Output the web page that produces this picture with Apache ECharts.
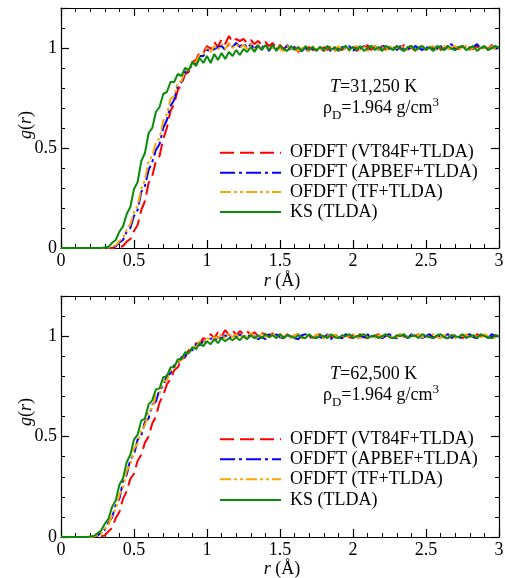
<!DOCTYPE html>
<html><head><meta charset="utf-8">
<script src="https://cdn.jsdelivr.net/npm/echarts/dist/echarts.min.js"></script>
<style>html,body{margin:0;padding:0;background:#fff}#c{width:505px;height:578px}</style>
</head><body><div id="c"></div>
<script>
// r grid (Å)
const R = [
0,0.025,0.05,0.075,0.1,0.125,0.15,0.175,0.2,0.225,
0.25,0.275,0.3,0.325,0.35,0.375,0.4,0.425,0.45,0.475,
0.5,0.525,0.55,0.575,0.6,0.625,0.65,0.675,0.7,0.725,
0.75,0.775,0.8,0.825,0.85,0.875,0.9,0.925,0.95,0.975,
1,1.025,1.05,1.075,1.1,1.125,1.15,1.175,1.2,1.225,
1.25,1.275,1.3,1.325,1.35,1.375,1.4,1.425,1.45,1.475,
1.5,1.525,1.55,1.575,1.6,1.625,1.65,1.675,1.7,1.725,
1.75,1.775,1.8,1.825,1.85,1.875,1.9,1.925,1.95,1.975,
2,2.025,2.05,2.075,2.1,2.125,2.15,2.175,2.2,2.225,
2.25,2.275,2.3,2.325,2.35,2.375,2.4,2.425,2.45,2.475,
2.5,2.525,2.55,2.575,2.6,2.625,2.65,2.675,2.7,2.725,
2.75,2.775,2.8,2.825,2.85,2.875,2.9,2.925,2.95,2.975,
3];

// Top panel: T = 31,250 K
const TOP_VT84F = [
0,0,0,0,0,0,0,0,0,0,
0,0,0,0,0,0,0.004,0.01,0.032,0.045,
0.085,0.115,0.19,0.235,0.325,0.36,0.435,0.46,0.545,0.6,
0.685,0.72,0.79,0.815,0.87,0.88,0.93,0.94,0.98,0.975,
1.01,0.995,1.03,1.005,1.045,1.02,1.06,1.03,1.045,1.035,
1.045,1.025,1.04,1.02,1.035,1.015,1.03,1.01,1.025,1.0,
1.015,0.995,1.01,0.985,1.005,0.98,1.0,0.985,1.005,0.99,
0.995,0.98,1.005,0.99,1.01,0.985,1.0,0.99,1.01,0.995,
1.005,0.985,1.0,0.995,1.015,0.99,1.005,0.995,1.01,0.99,
1.005,0.99,1.01,0.995,1.015,0.99,1.005,0.985,1.0,1.01,
0.99,1.005,0.995,1.015,0.99,1.0,1.01,0.99,1.005,0.995,
1.01,0.99,1.005,0.995,1.01,0.985,1.005,0.995,1.015,0.995,
1.005];
const TOP_APBEF = [
0,0,0,0,0,0,0,0,0,0,
0,0,0,0,0.004,0.008,0.028,0.04,0.082,0.1,
0.16,0.19,0.28,0.31,0.39,0.43,0.49,0.52,0.6,0.64,
0.71,0.74,0.81,0.83,0.88,0.885,0.92,0.925,0.96,0.96,
0.99,0.985,0.995,1.005,1.01,0.99,1.02,1.005,1.025,1.005,
1.025,1.0,1.02,0.995,1.015,1.0,1.02,0.985,1.015,0.995,
1.01,0.99,1.015,0.985,1.005,0.995,0.985,1.005,0.98,1.0,
0.99,1.005,0.985,1.01,0.98,1.0,0.99,1.005,0.995,1.01,
0.985,1.005,0.995,1.01,0.99,1.0,1.01,0.99,1.005,1.015,
0.995,1.005,0.99,1.01,0.995,1.005,0.985,1.01,1.0,0.99,
1.01,0.985,1.005,0.995,1.01,0.99,1.005,1.02,0.99,1.005,
0.995,1.01,0.99,1.005,1.02,0.995,1.005,0.99,1.01,0.995,
1.005];
const TOP_TF = [
0,0,0,0,0,0,0,0,0,0,
0,0,0,0.002,0.008,0.013,0.035,0.05,0.092,0.118,
0.18,0.212,0.295,0.34,0.435,0.46,0.525,0.55,0.635,0.67,
0.745,0.76,0.825,0.835,0.885,0.89,0.925,0.93,0.97,0.97,
1.0,0.98,1.01,0.99,1.02,0.995,1.025,1.0,1.02,1.0,
1.015,0.995,1.02,0.995,1.015,0.99,1.01,0.995,1.0,1.01,
0.995,0.985,1.01,0.99,1.005,0.985,1.0,0.995,0.985,1.01,
0.99,1.005,0.98,1.0,0.995,0.985,1.01,0.99,1.005,0.985,
1.005,1.01,0.99,1.005,0.985,1.005,1.01,0.99,1.005,0.985,
1.01,0.995,1.0,1.015,0.995,0.99,1.01,0.985,1.005,1.01,
0.99,1.005,1.01,0.985,1.005,1.01,0.99,1.005,1.01,0.99,
1.005,1.01,0.99,1.005,0.985,1.01,1.0,0.99,1.01,0.995,
1.0];
const TOP_KS = [
0,0,0,0,0,0,0,0,0,0,
0,0,0.003,0.006,0.026,0.04,0.082,0.108,0.17,0.205,
0.295,0.33,0.435,0.475,0.575,0.6,0.68,0.705,0.77,0.78,
0.83,0.83,0.87,0.86,0.9,0.89,0.93,0.91,0.95,0.925,
0.96,0.925,0.97,0.94,0.975,0.945,0.98,0.96,0.99,0.965,
0.995,0.98,1.005,0.98,1.01,0.99,1.015,0.99,1.015,0.985,
1.01,0.995,0.985,1.01,0.99,1.005,0.985,1.01,0.99,1.005,
0.985,1.005,0.99,1.01,0.99,1.005,0.985,1.0,1.01,0.99,
1.005,0.99,1.01,0.985,1.0,1.01,0.99,1.005,0.985,1.01,
1.0,0.99,1.01,0.995,0.985,1.005,1.01,0.99,1.0,1.01,
0.99,1.005,0.985,1.01,1.0,0.99,1.01,0.995,0.99,1.005,
1.01,0.99,1.0,1.01,0.985,1.0,1.01,0.99,1.0,1.01,
1.0];

// Bottom panel: T = 62,500 K
const BOT_VT84F = [
0,0,0,0,0,0,0,0,0,0,
0,0.003,0.008,0.028,0.045,0.095,0.125,0.19,0.228,0.29,
0.315,0.38,0.41,0.47,0.5,0.565,0.6,0.67,0.705,0.76,
0.785,0.83,0.845,0.885,0.895,0.93,0.935,0.965,0.965,0.99,
0.985,1.01,0.99,1.02,1.0,1.03,1.005,1.03,1.005,1.025,
1.01,1.025,1.005,1.02,1.0,1.015,1.01,1.0,1.015,0.995,
1.01,0.995,1.01,0.99,1.005,1.01,0.99,1.005,1.0,0.99,
1.005,1.01,0.99,1.005,0.995,1.0,1.01,0.99,1.005,0.995,
0.99,1.005,1.01,0.995,0.99,1.005,1.0,1.01,0.99,1.0,
1.005,0.99,1.0,1.01,0.995,0.99,1.005,1.0,1.01,0.99,
1.0,1.005,0.99,1.0,1.01,0.995,0.99,1.005,1.0,1.01,
0.99,1.005,1.0,0.99,1.01,1.0,1.005,0.99,1.0,1.005,
1.0];
const BOT_APBEF = [
0,0,0,0,0,0,0,0,0,0.003,
0.006,0.024,0.036,0.072,0.098,0.16,0.19,0.275,0.31,0.385,
0.41,0.485,0.505,0.575,0.59,0.66,0.675,0.735,0.75,0.805,
0.815,0.855,0.865,0.895,0.9,0.93,0.93,0.96,0.955,0.975,
0.97,0.99,0.975,0.995,0.99,1.005,0.985,1.01,0.995,1.01,
0.995,1.01,0.99,1.0,0.985,0.995,0.985,1.01,0.995,1.01,
0.995,0.99,1.01,0.995,0.99,0.985,1.005,1.01,0.995,0.99,
1.005,0.995,0.99,1.01,0.985,1.005,0.995,0.99,1.01,1.0,
1.005,0.99,1.0,0.995,1.01,0.99,1.005,1.0,0.99,1.005,
1.01,0.995,0.99,1.005,1.0,0.99,1.01,0.995,1.005,0.99,
1.0,1.01,0.995,0.99,1.005,1.0,1.01,0.99,1.005,0.995,
0.99,1.005,1.01,0.995,0.99,1.005,1.0,0.99,1.01,1.0,
1.0];
const BOT_TF = [
0,0,0,0,0,0,0,0,0,0.002,
0.009,0.016,0.042,0.06,0.108,0.138,0.21,0.245,0.33,0.36,
0.44,0.465,0.535,0.555,0.625,0.64,0.705,0.715,0.775,0.78,
0.83,0.84,0.875,0.88,0.915,0.915,0.95,0.945,0.975,0.965,
0.99,0.985,0.995,0.99,1.01,0.99,1.015,0.995,1.01,0.99,
1.01,0.995,1.015,0.995,0.99,1.01,0.995,0.99,1.01,0.995,
0.99,1.01,0.995,0.99,1.005,1.01,0.99,1.005,0.995,0.99,
1.01,0.995,0.99,1.005,0.995,1.01,0.99,1.005,0.99,1.005,
1.01,0.995,0.99,1.005,1.01,0.995,0.99,1.005,0.995,1.01,
0.99,1.005,0.995,1.01,0.99,1.0,1.005,0.99,1.01,0.995,
0.99,1.005,1.01,0.995,0.99,1.005,1.01,0.995,0.99,1.005,
1.0,1.01,0.99,1.005,0.995,0.99,1.01,1.0,0.995,0.99,
1.0];
const BOT_KS = [
0,0,0,0,0,0,0,0,0.002,0.005,
0.018,0.032,0.066,0.09,0.15,0.182,0.26,0.293,0.372,0.41,
0.485,0.51,0.58,0.59,0.66,0.68,0.735,0.74,0.795,0.8,
0.845,0.845,0.885,0.885,0.92,0.915,0.945,0.935,0.965,0.95,
0.975,0.96,0.985,0.965,0.99,0.975,0.99,0.98,0.995,0.98,
1.0,0.985,1.005,0.99,1.005,0.99,1.01,0.995,1.005,0.99,
1.01,0.99,1.005,1.0,0.99,1.005,0.995,0.99,1.01,0.995,
0.99,1.005,1.0,0.99,1.01,0.995,0.99,1.005,1.0,1.01,
0.99,1.0,1.005,1.01,0.99,1.0,1.005,0.99,1.0,1.01,
0.995,0.99,1.005,1.0,1.01,0.99,1.0,1.005,0.99,1.01,
1.0,0.995,0.99,1.005,1.01,0.995,0.99,1.005,1.0,0.995,
1.01,0.99,1.0,1.005,0.99,1.01,1.0,0.995,0.99,1.005,
1.0];

const SERIES_NAMES = ['OFDFT (VT84F+TLDA)', 'OFDFT (APBEF+TLDA)', 'OFDFT (TF+TLDA)', 'KS (TLDA)'];
const PANEL_TEMPS = ['31,250 K', '62,500 K'];
const DENSITY_TEXT = '=1.964 g/cm';
const PANEL_DATA = [
  [TOP_VT84F, TOP_APBEF, TOP_TF, TOP_KS],
  [BOT_VT84F, BOT_APBEF, BOT_TF, BOT_KS]
];

const COLORS = ['#ff0000', '#0000ff', '#ffa500', '#0a8c0a'];
const DASHES = [[14, 6], [15, 4, 3, 4], [11, 3, 3, 3, 3, 3], 'solid'];
const FONT = 'Liberation Serif';

const GRIDS = [
  { left: 61, top: 8, width: 438, height: 240 },
  { left: 61, top: 296, width: 438, height: 241 }
];
const LEGEND_Y = [[152.7, 172.7, 191.9, 212], [439.3, 459.3, 479.2, 500]];
const ANNOT_Y = [[87.6, 108.6], [374.6, 395.6]];
const YLABEL_Y = [125, 412];
const XLABEL_Y = [281, 569];

const chart = echarts.init(document.getElementById('c'), null, { renderer: 'canvas' });

const xAxes = [], yAxes = [], series = [], graphics = [];
function pairs(ys) {
  const out = [];
  for (let i = 0; i < Math.min(R.length, ys.length); i++) out.push([R[i], ys[i]]);
  return out;
}
const lineCol = { show: true, onZero: false, lineStyle: { color: '#000', width: 1.2 } };
GRIDS.forEach((g, p) => {
  ['bottom', 'top'].forEach((pos, k) => {
    xAxes.push({
      type: 'value', gridIndex: p, position: pos, min: 0, max: 3, interval: 0.5,
      axisLine: lineCol,
      axisTick: { show: true, inside: true, length: 8, lineStyle: { color: '#000', width: 1.2 } },
      minorTick: { show: true, splitNumber: 5, length: 4, lineStyle: { color: '#000', width: 1 } },
      splitLine: { show: false }, minorSplitLine: { show: false },
      axisLabel: { show: k === 0, color: '#000', fontSize: 18, fontFamily: FONT, margin: 4,
        formatter: v => String(v) }
    });
  });
  ['left', 'right'].forEach((pos, k) => {
    yAxes.push({
      type: 'value', gridIndex: p, position: pos, min: 0, max: 1.2, interval: 0.5,
      axisLine: lineCol,
      axisTick: { show: true, inside: true, length: 8, lineStyle: { color: '#000', width: 1.2 } },
      minorTick: { show: true, splitNumber: 5, length: 4, lineStyle: { color: '#000', width: 1 } },
      splitLine: { show: false }, minorSplitLine: { show: false },
      axisLabel: { show: k === 0, color: '#000', fontSize: 18, fontFamily: FONT, margin: 4,
        formatter: v => (Math.abs(v * 2 - Math.round(v * 2)) < 1e-6 ? String(v) : '') }
    });
  });
  PANEL_DATA[p].forEach((ys, s) => {
    series.push({
      name: SERIES_NAMES[s], type: 'line', xAxisIndex: 2 * p, yAxisIndex: 2 * p,
      data: pairs(ys), showSymbol: false, symbol: 'none', clip: true,
      lineStyle: { color: COLORS[s], width: 2, type: DASHES[s] },
      z: 2 + s, animation: false
    });
    const ly = LEGEND_Y[p][s];
    graphics.push({
      type: 'line', z: 100,
      shape: { x1: 220, y1: ly, x2: 281, y2: ly },
      style: { stroke: COLORS[s], lineWidth: 2, lineDash: DASHES[s] === 'solid' ? null : DASHES[s] }
    });
    graphics.push({
      type: 'text', z: 100, x: 290, y: ly,
      style: { text: SERIES_NAMES[s], fill: '#000', fontSize: 18, fontFamily: FONT,
        align: 'left', verticalAlign: 'middle' }
    });
  });
  graphics.push({
    type: 'text', z: 100, x: 330, y: ANNOT_Y[p][0],
    style: {
      text: '{i|T}{n|=' + PANEL_TEMPS[p] + '}', align: 'left', verticalAlign: 'middle', fill: '#000',
      fontSize: 18, fontFamily: FONT,
      rich: {
        i: { fontStyle: 'italic', fontSize: 18, fontFamily: FONT, fill: '#000' },
        n: { fontSize: 18, fontFamily: FONT, fill: '#000' }
      }
    }
  });
  graphics.push({
    type: 'text', z: 100, x: 323, y: ANNOT_Y[p][1],
    style: {
      text: '{n|ρ}{s|D}{n|' + DENSITY_TEXT + '}{p|3}', align: 'left', verticalAlign: 'middle', fill: '#000',
      fontSize: 18, fontFamily: FONT,
      rich: {
        n: { fontSize: 18, fontFamily: FONT, lineHeight: 26, fill: '#000' },
        s: { fontSize: 13, fontFamily: FONT, lineHeight: 14, verticalAlign: 'bottom', fill: '#000' },
        p: { fontSize: 13, fontFamily: FONT, lineHeight: 14, verticalAlign: 'top', fill: '#000' }
      }
    }
  });
  graphics.push({
    type: 'text', z: 100, x: 26, y: YLABEL_Y[p], rotation: Math.PI / 2,
    style: {
      text: '{i|g}{n|(}{i|r}{n|)}', align: 'center', verticalAlign: 'middle', fill: '#000',
      fontSize: 18, fontFamily: FONT,
      rich: {
        i: { fontStyle: 'italic', fontSize: 18, fontFamily: FONT, fill: '#000' },
        n: { fontSize: 18, fontFamily: FONT, fill: '#000' }
      }
    }
  });
  graphics.push({
    type: 'text', z: 100, x: 282, y: XLABEL_Y[p],
    style: {
      text: '{i|r}{n| (Å)}', align: 'center', verticalAlign: 'middle', fill: '#000',
      fontSize: 18, fontFamily: FONT,
      rich: {
        i: { fontStyle: 'italic', fontSize: 18, fontFamily: FONT, fill: '#000' },
        n: { fontSize: 18, fontFamily: FONT, fill: '#000' }
      }
    }
  });
});

chart.setOption({
  backgroundColor: '#fff',
  animation: false,
  grid: GRIDS.map(g => Object.assign({ containLabel: false, outerBoundsMode: 'none' }, g)),
  xAxis: xAxes,
  yAxis: yAxes,
  series: series,
  graphic: graphics
});
</script></body></html>
